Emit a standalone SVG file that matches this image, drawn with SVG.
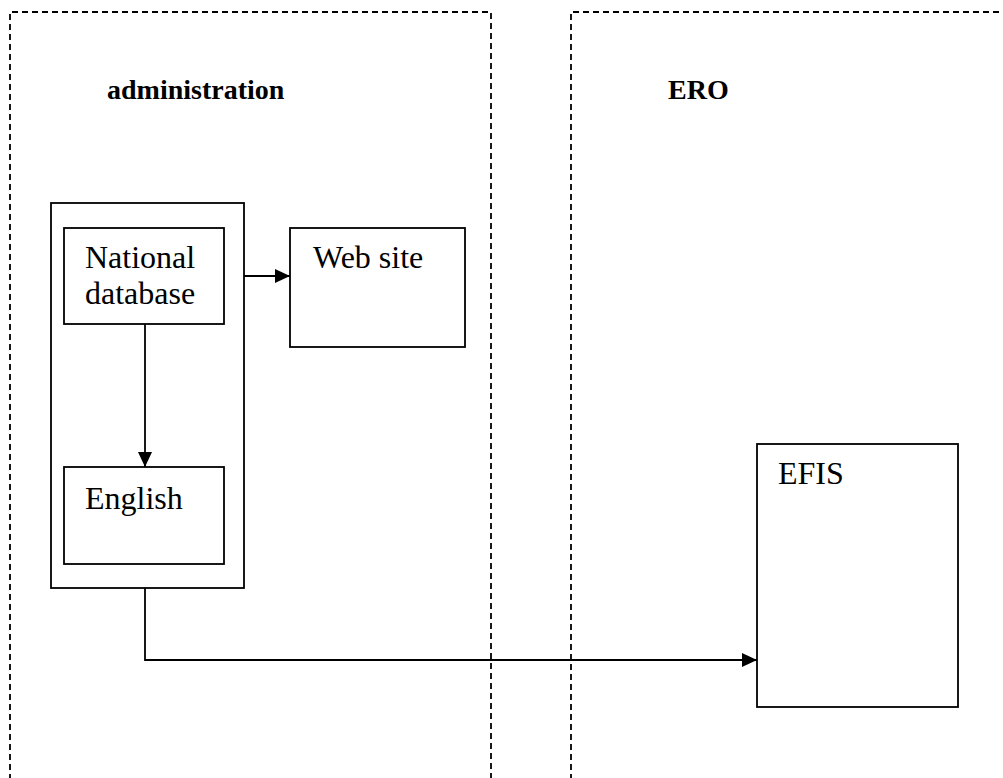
<svg xmlns="http://www.w3.org/2000/svg" width="1003" height="778" viewBox="0 0 1003 778">
<style>
.box{fill:#fff;stroke:#000;stroke-width:1.8}
.lane{fill:none;stroke:#000;stroke-width:1.8;stroke-dasharray:6 4}
.t{font-family:"Liberation Serif","Times New Roman",serif;font-size:32px;fill:#000}
.h{font-family:"Liberation Serif","Times New Roman",serif;font-size:28px;font-weight:bold;fill:#000}
.c{fill:none;stroke:#000;stroke-width:1.8}
</style>
<defs>
<marker id="arr" viewBox="0 0 15 14" refX="15" refY="7" markerWidth="15" markerHeight="14" markerUnits="userSpaceOnUse" orient="auto">
<path d="M0,0 L15,7 L0,14 z" fill="#000"/>
</marker>
</defs>
<rect width="1003" height="778" fill="#fff"/>
<g id="lane-administration">
<path class="lane" d="M10,790 L10,12 L491,12 L491,790"/>
<text class="h" x="107" y="99">administration</text>
</g>
<g id="lane-ERO">
<path class="lane" d="M571,790 L571,12 L1010,12"/>
<text class="h" x="668" y="99">ERO</text>
</g>
<g id="outer">
<rect class="box" x="51" y="203" width="193" height="385"/>
</g>
<g id="national-database">
<rect class="box" x="64" y="228" width="160" height="96"/>
<text class="t" x="85" y="268">National</text>
<text class="t" x="85" y="304">database</text>
</g>
<g id="web-site">
<rect class="box" x="290" y="228" width="175" height="119"/>
<text class="t" x="313" y="268">Web site</text>
</g>
<g id="english">
<rect class="box" x="64" y="467" width="160" height="97"/>
<text class="t" x="85" y="509">English</text>
</g>
<g id="efis">
<rect class="box" x="757" y="444" width="201" height="263"/>
<text class="t" x="778" y="484">EFIS</text>
</g>
<g id="connectors">
<path class="c" d="M244,276 L290,276" marker-end="url(#arr)"/>
<path class="c" d="M145,324 L145,467" marker-end="url(#arr)"/>
<path class="c" d="M145,588 L145,660 L757,660" marker-end="url(#arr)"/>
</g>
</svg>
